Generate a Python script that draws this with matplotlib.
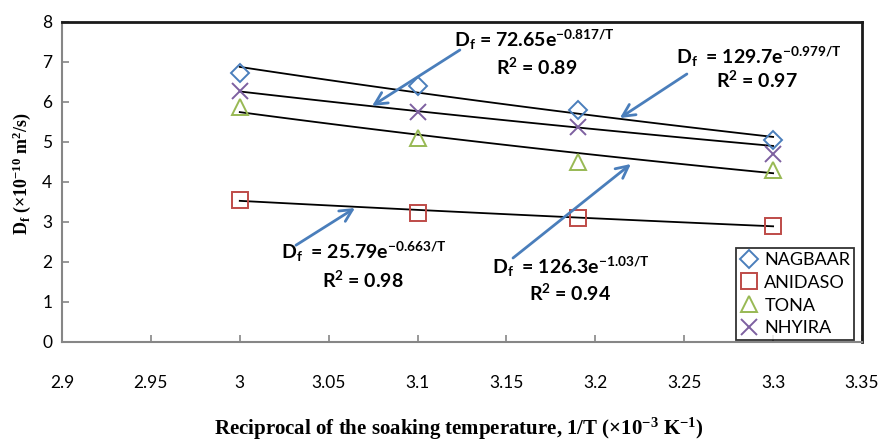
import numpy as np
import matplotlib
matplotlib.use("Agg")
import matplotlib.pyplot as plt

plt.rcParams['font.family'] = ['Lato', 'DejaVu Sans']
plt.rcParams['mathtext.default'] = 'regular'

# ---- data ----
x_vals = [3.0, 3.1, 3.19, 3.3]
series_names = ["NAGBAAR", "ANIDASO", "TONA", "NHYIRA"]
nagbaar = [6.73, 6.40, 5.80, 5.05]
anidaso = [3.55, 3.23, 3.10, 2.90]
tona = [5.88, 5.10, 4.50, 4.30]
nhyira = [6.28, 5.76, 5.37, 4.70]
fit_A = [129.7, 25.79, 126.3, 72.65]
fit_B = [0.979, 0.663, 1.03, 0.817]
eq_labels = ["D$_f$ = 72.65e$^{-0.817/T}$", "D$_f$  = 129.7e$^{-0.979/T}$",
             "D$_f$  = 25.79e$^{-0.663/T}$", "D$_f$  = 126.3e$^{-1.03/T}$"]
r2_labels = ["R$^2$ = 0.89", "R$^2$ = 0.97", "R$^2$ = 0.98", "R$^2$ = 0.94"]
x_ticks = [2.9, 2.95, 3.0, 3.05, 3.1, 3.15, 3.2, 3.25, 3.3, 3.35]
x_ticklabels = ["2.9", "2.95", "3", "3.05", "3.1", "3.15", "3.2", "3.25", "3.3", "3.35"]
y_ticks = [0, 1, 2, 3, 4, 5, 6, 7, 8]

series = [nagbaar, anidaso, tona, nhyira]
colors = ["#4a7ebb", "#be4b48", "#98b954", "#7d60a0"]
markers = ["D", "s", "^", "x"]
msizes = [9, 11, 11, 11]

fig = plt.figure(figsize=(8.82, 4.43), dpi=100)
ax = fig.add_axes([62/882, 1-342/443, 800/882, 320/443])

xf = np.linspace(x_vals[0], x_vals[-1], 100)
for A, B in zip(fit_A, fit_B):
    ax.plot(xf, A*np.exp(-B*xf), color='black', lw=1.3, zorder=2)

for name, ys, c, m, ms in zip(series_names, series, colors, markers, msizes):
    ax.plot(x_vals, ys, linestyle='none', marker=m, ms=ms, mfc='none',
            mec=c, mew=1.4, label=name, zorder=3)

ax.set_xlim(2.9, 3.35)
ax.set_ylim(0, 8)
ax.set_xticks(x_ticks)
ax.set_xticklabels(x_ticklabels)
ax.set_yticks(y_ticks)
ax.tick_params(axis='x', direction='in', length=5, width=1.2, color='#868686',
               pad=24, labelsize=12.5)
ax.tick_params(axis='y', direction='in', length=5, width=1.2, color='#868686',
               pad=7, labelsize=12.5)
for s in ['left', 'bottom']:
    ax.spines[s].set_color('#868686')
    ax.spines[s].set_linewidth(1.5)
for s in ['top', 'right']:
    ax.spines[s].set_color('#1a1a1a')
    ax.spines[s].set_linewidth(2)

arrow_c = "#4a7ebb"
# annotations: (text pos eq, text pos r2, tail, head)
ann = [
    ((3.166, 7.55), (3.167, 6.88), (3.1238, 7.30), (3.0744, 5.90)),
    ((3.292, 7.12), (3.291, 6.55), (3.2515, 6.70), (3.2138, 5.60)),
    ((3.070, 2.25), (3.069, 1.55), (3.0316, 2.42), (3.0648, 3.35)),
    ((3.186, 1.87), (3.186, 1.22), (3.1537, 2.10), (3.2200, 4.45)),
]
for (eqp, r2p, tail, head), eq, r2 in zip(ann, eq_labels, r2_labels):
    ax.annotate("", xy=head, xytext=tail,
                arrowprops=dict(arrowstyle='->', color=arrow_c, lw=2,
                                mutation_scale=22, shrinkA=0, shrinkB=0),
                zorder=4)
    ax.text(eqp[0], eqp[1], eq, ha='center', va='center', fontsize=14,
            fontweight='bold', zorder=5)
    ax.text(r2p[0], r2p[1], r2, ha='center', va='center', fontsize=14,
            fontweight='bold', zorder=5)

leg = ax.legend(loc='lower right', bbox_to_anchor=(0.99, 0.006), fontsize=13,
                frameon=True, fancybox=False, edgecolor='black', borderpad=0.2,
                labelspacing=0.38, handlelength=1.0, handletextpad=0.35,
                borderaxespad=0)
leg.get_frame().set_linewidth(1.3)

fig.text(0.52, 0.003, "Reciprocal of the soaking temperature, 1/T (×10$^{-3}$ K$^{-1}$)",
         ha='center', va='bottom', fontsize=15, fontweight='bold',
         family=['Liberation Serif', 'DejaVu Serif'])
fig.text(0.025, 0.607, "D$_f$ (×10$^{-10}$ m$^2$/s)", ha='center', va='center',
         rotation=90, fontsize=13, fontweight='bold',
         family=['Liberation Serif', 'DejaVu Serif'])

fig.savefig("out.png", dpi=100)
